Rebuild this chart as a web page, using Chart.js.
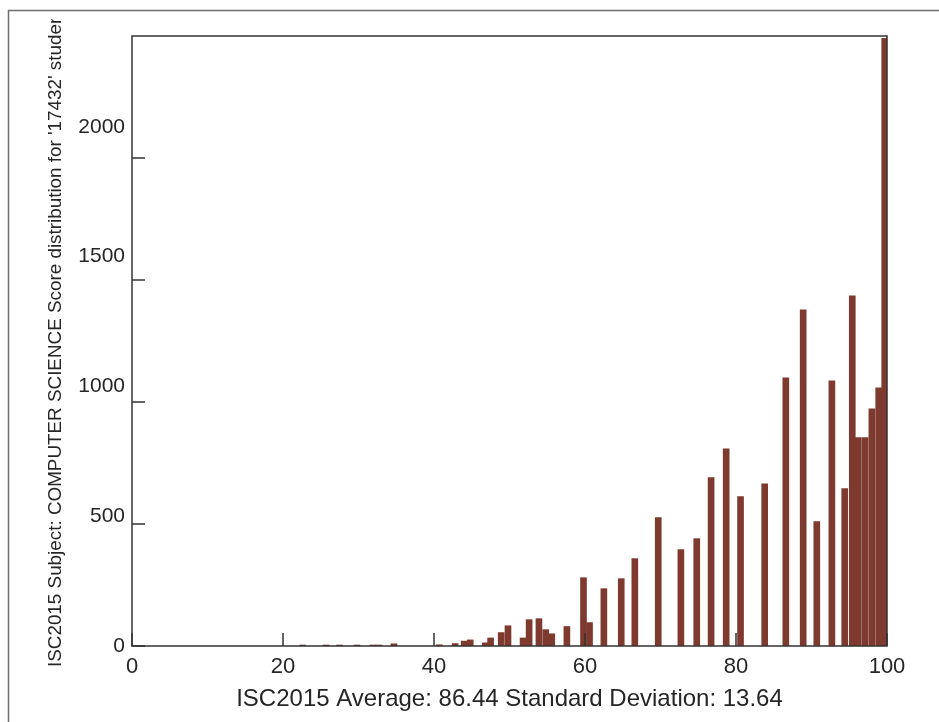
<!DOCTYPE html>
<html>
<head>
<meta charset="utf-8">
<script src="https://cdn.jsdelivr.net/npm/chart.js@4.4.1/dist/chart.umd.min.js"></script>
<style>
  html, body { margin: 0; padding: 0; background: #fff; }
  canvas { display: block; }
</style>
</head>
<body>
<canvas id="scoreChart" width="939" height="722"></canvas>
<script>
// score positions (x) and number of students (y)
var scores = [22.6, 25.7, 27.5, 29.8, 31.9, 32.7, 34.7, 40.7, 42.8, 44.0,
              44.8, 46.8, 47.5, 48.9, 49.8, 51.8, 52.6, 53.9, 54.8, 55.6,
              57.6, 59.8, 60.6, 62.5, 64.8, 66.6, 69.7, 72.7, 74.8, 76.7,
              78.7, 80.6, 83.8, 86.6, 88.9, 90.7, 92.7, 94.4, 95.4, 96.2,
              97.1, 98.0, 98.9, 99.7];
var counts = [4, 4, 4, 4, 4, 4, 9, 5, 10, 20,
              25, 13, 33, 55, 83, 33, 108, 112, 67, 50,
              80, 280, 96, 235, 276, 358, 526, 395, 440, 690,
              808, 612, 665, 1099, 1378, 510, 1087, 645, 1435, 854,
              854, 972, 1058, 2490];

var xTicks = [0, 20, 40, 60, 80, 100];
var yTicks = [0, 500, 1000, 1500, 2000];

var xTitle = 'ISC2015 Average: 86.44 Standard Deviation: 13.64';
var yTitle = "ISC2015 Subject: COMPUTER SCIENCE Score distribution for '17432' students";

var barColor = '#7e3a2e';
var axisColor = '#333333';
var textColor = '#262626';
var fontFamily = '"Liberation Sans", Arial, sans-serif';

// frame, axes box, inward ticks and the clipped y title
var decorations = {
    id: 'decorations',
    beforeDraw: function(chart) {
        var ctx = chart.ctx;
        ctx.save();
        ctx.fillStyle = '#ffffff';
        ctx.fillRect(0, 0, chart.width, chart.height);
        ctx.strokeStyle = '#6e6e6e';
        ctx.lineWidth = 1.5;
        ctx.strokeRect(8.5, 10.5, 1200, 1200);

        ctx.beginPath();
        ctx.rect(0, 19, chart.width, chart.height);
        ctx.clip();
        ctx.translate(56, 667);
        ctx.rotate(-Math.PI / 2);
        ctx.fillStyle = textColor;
        ctx.font = '18.85px ' + fontFamily;
        ctx.textAlign = 'left';
        ctx.textBaseline = 'middle';
        ctx.fillText(yTitle, 0, 0);
        ctx.restore();
    },
    afterDatasetsDraw: function(chart) {
        var ctx = chart.ctx;
        var area = chart.chartArea;
        var xs = chart.scales.x, ys = chart.scales.y;
        ctx.save();
        ctx.strokeStyle = axisColor;
        ctx.lineWidth = 1.5;
        ctx.strokeRect(area.left, area.top, area.right - area.left, area.bottom - area.top);
        ctx.beginPath();
        xTicks.forEach(function(v) {
            var px = xs.getPixelForValue(v);
            ctx.moveTo(px, area.bottom);
            ctx.lineTo(px, area.bottom - 13);
        });
        yTicks.forEach(function(v) {
            var py = ys.getPixelForValue(v);
            ctx.moveTo(area.left, py);
            ctx.lineTo(area.left + 13, py);
        });
        ctx.stroke();
        ctx.restore();
    }
};

var chart = new Chart(document.getElementById('scoreChart').getContext('2d'), {
    type: 'bar',
    data: {
        datasets: [{
            data: scores.map(function(s, i) { return {x: s, y: counts[i]}; }),
            backgroundColor: barColor,
            borderWidth: 0,
            barThickness: 6
        }]
    },
    options: {
        responsive: false,
        animation: false,
        layout: { padding: { left: 0, right: 52, top: 36, bottom: 0 } },
        plugins: {
            legend: { display: false },
            tooltip: { enabled: false }
        },
        scales: {
            x: {
                type: 'linear',
                offset: false,
                min: 0,
                max: 100,
                afterBuildTicks: function(s) { s.ticks = xTicks.map(function(v) { return {value: v}; }); },
                afterFit: function(s) { s.height = 76; },
                grid: { display: false, drawTicks: false, offset: false },
                border: { display: false },
                ticks: {
                    padding: 8, color: textColor, maxRotation: 0,
                    font: { family: fontFamily, size: 22 },
                    callback: function(v) { return String(v); }
                },
                title: {
                    display: true,
                    text: xTitle,
                    color: textColor,
                    font: { family: fontFamily, size: 24 },
                    padding: { top: 0, bottom: 8 }
                }
            },
            // value axis for the bars (its labels are shown by yLabels)
            y: {
                position: 'left',
                min: 0,
                max: 2500,
                afterBuildTicks: function(s) { s.ticks = yTicks.map(function(v) { return {value: v}; }); },
                afterFit: function(s) { s.width = 0; },
                grid: { display: false, drawTicks: false },
                border: { display: false },
                ticks: { display: false }
            },
            // the reference's tick labels sit on a slightly taller spacing than its tick marks
            yLabels: {
                position: 'left',
                min: 0,
                max: 2350,
                afterBuildTicks: function(s) { s.ticks = yTicks.map(function(v) { return {value: v}; }); },
                afterFit: function(s) { s.width = 132; },
                grid: { display: false, drawTicks: false },
                border: { display: false },
                ticks: {
                    padding: 7, color: textColor,
                    font: { family: fontFamily, size: 21 },
                    callback: function(v) { return String(v); }
                }
            }
        }
    },
    plugins: [decorations]
});
</script>
</body>
</html>
